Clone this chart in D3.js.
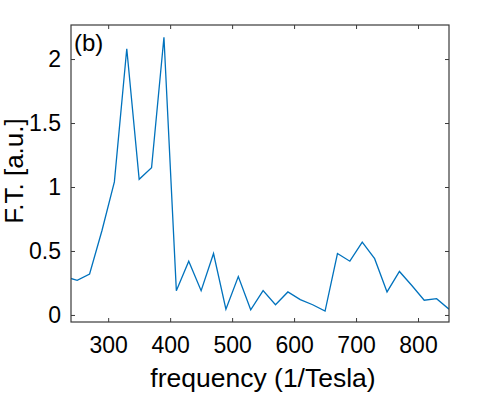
<!DOCTYPE html>
<html>
<head>
<meta charset="utf-8">
<script src="https://cdn.jsdelivr.net/npm/d3@7"></script>
<style>
  html, body { margin: 0; padding: 0; background: #fff; }
  svg { display: block; }
  text { font-family: "Liberation Sans", Arial, Helvetica, sans-serif; fill: #000; }
</style>
</head>
<body>
<svg id="chart" width="477" height="394"></svg>
<script>
// Data (frequency in 1/Tesla, Fourier transform amplitude in a.u.)
const frequencies = [230, 250, 270, 290, 310, 330, 350, 370, 390, 410, 430, 450, 470, 490, 510, 530,
                     550, 570, 590, 610, 630, 650, 670, 690, 710, 730, 750, 770, 790, 810, 830, 850];
const amplitudes  = [0.30, 0.27, 0.32, 0.66, 1.04, 2.08, 1.06, 1.15, 2.17, 0.19, 0.42, 0.19, 0.48, 0.045, 0.30, 0.04,
                     0.19, 0.08, 0.18, 0.12, 0.08, 0.03, 0.48, 0.42, 0.57, 0.44, 0.18, 0.34, 0.23, 0.115, 0.127, 0.045];
const xTicks = [300, 400, 500, 600, 700, 800];
const yTicks = [0, 0.5, 1, 1.5, 2];
const yTickLabels = ["0", "0.5", "1", "1.5", "2"];
const xDomain = [240, 850];
const yDomain = [-0.055, 2.266];

const svg = d3.select("#chart");
const L = 71, R = 449, T = 25, B = 322;

const x = d3.scaleLinear().domain(xDomain).range([L, R]);
const y = d3.scaleLinear().domain(yDomain).range([B, T]);

svg.append("defs").append("clipPath").attr("id", "plotclip")
  .append("rect").attr("x", L).attr("y", T).attr("width", R - L).attr("height", B - T);

const axisColor = "#3a3a3a";
const tickLen = 4;

// line
const line = d3.line().x((d, i) => x(frequencies[i])).y(d => y(d));
svg.append("path")
  .datum(amplitudes)
  .attr("clip-path", "url(#plotclip)")
  .attr("fill", "none")
  .attr("stroke", "#0072BD")
  .attr("stroke-width", 1.3)
  .attr("stroke-linejoin", "miter")
  .attr("d", line);

// axes using d3 axis generators (inward ticks)
const fontTick = 23;
const xAxisB = d3.axisBottom(x).tickValues(xTicks).tickSize(-tickLen).tickFormat(d3.format("d")).tickPadding(15);
const xAxisT = d3.axisTop(x).tickValues(xTicks).tickSize(-tickLen).tickFormat("");
const yAxisL = d3.axisLeft(y).tickValues(yTicks).tickSize(-tickLen).tickFormat((d, i) => yTickLabels[i]).tickPadding(10);
const yAxisR = d3.axisRight(y).tickValues(yTicks).tickSize(-tickLen).tickFormat("");

function styleAxis(g) {
  g.select(".domain").remove();
  g.selectAll(".tick line").attr("stroke", axisColor).attr("stroke-width", 1);
  g.selectAll(".tick text").style("font-family", '"Liberation Sans", Arial, sans-serif')
    .style("font-size", fontTick + "px").attr("fill", "#000");
}

svg.append("g").attr("transform", `translate(0,${B})`).call(xAxisB).call(styleAxis);
svg.append("g").attr("transform", `translate(0,${T})`).call(xAxisT).call(styleAxis);
svg.append("g").attr("transform", `translate(${L},0)`).call(yAxisL).call(styleAxis);
svg.append("g").attr("transform", `translate(${R},0)`).call(yAxisR).call(styleAxis);

// box
svg.append("rect")
  .attr("x", L).attr("y", T).attr("width", R - L).attr("height", B - T)
  .attr("fill", "none").attr("stroke", axisColor).attr("stroke-width", 1.2);

// axis labels
svg.append("text")
  .attr("x", (L + R) / 2 + 3).attr("y", 387)
  .attr("text-anchor", "middle")
  .style("font-size", "26.5px")
  .text("frequency (1/Tesla)");

svg.append("text")
  .attr("transform", `translate(23,171) rotate(-90)`)
  .attr("text-anchor", "middle")
  .style("font-size", "26px")
  .text("F.T. [a.u.]");

// panel label
svg.append("text")
  .attr("x", 74).attr("y", 51)
  .style("font-size", "24px")
  .text("(b)");
</script>
</body>
</html>
